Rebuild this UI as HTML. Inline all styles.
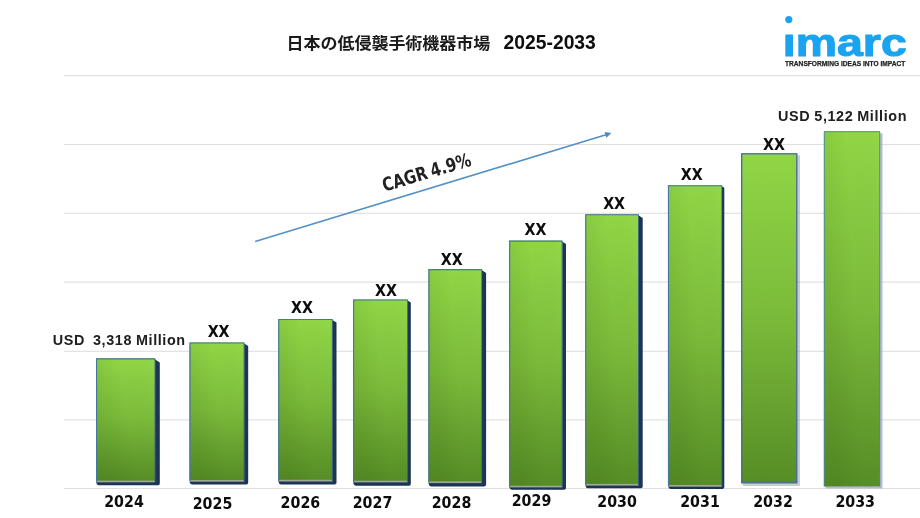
<!DOCTYPE html>
<html lang="ja">
<head>
<meta charset="utf-8">
<title>日本の低侵襲手術機器市場 2025-2033</title>
<style>
html,body{margin:0;padding:0;background:#fff;}
body{width:920px;height:518px;overflow:hidden;font-family:"Liberation Sans","Noto Sans CJK JP",sans-serif;}
svg{display:block;}
text{font-family:"Liberation Sans","Noto Sans CJK JP",sans-serif;}
.b{font-weight:700;}
.d{font-family:"DejaVu Sans Condensed","Liberation Sans",sans-serif;font-weight:700;}
</style>
</head>
<body>
<svg width="920" height="518" viewBox="0 0 920 518">
<defs>
<linearGradient id="g" x1="0" y1="0" x2="0" y2="1">
<stop offset="0" stop-color="#90d645"/>
<stop offset="0.5" stop-color="#7aba3a"/>
<stop offset="1" stop-color="#568d26"/>
</linearGradient>
<linearGradient id="h" x1="0" y1="0.3" x2="1" y2="0">
<stop offset="0" stop-color="#1e3c00" stop-opacity="0.09"/>
<stop offset="0.45" stop-color="#1e3c00" stop-opacity="0"/>
<stop offset="1" stop-color="#ffffff" stop-opacity="0.03"/>
</linearGradient>
<filter id="bl" x="-20%" y="-20%" width="140%" height="140%"><feGaussianBlur stdDeviation="0.4"/></filter>
<filter id="bl2" x="-20%" y="-20%" width="140%" height="140%"><feGaussianBlur stdDeviation="0.7"/></filter>
<clipPath id="lc"><rect x="780" y="33" width="130" height="30"/></clipPath>
</defs>
<rect width="920" height="518" fill="#fff"/>
<rect x="64" y="75.20" width="856" height="1.1" fill="#dfdfdf"/>
<rect x="64" y="143.95" width="856" height="1.1" fill="#dfdfdf"/>
<rect x="64" y="212.75" width="856" height="1.1" fill="#dfdfdf"/>
<rect x="64" y="281.55" width="856" height="1.1" fill="#dfdfdf"/>
<rect x="64" y="350.75" width="856" height="1.1" fill="#dfdfdf"/>
<rect x="64" y="419.35" width="856" height="1.1" fill="#dfdfdf"/>
<rect x="64" y="487.95" width="856" height="1.1" fill="#dfdfdf"/>
<path d="M154.1 358.8 L159.8 362.5 L159.8 483.4 Q159.8 485.2 158.0 485.2 L98.7 485.2 Q96.6 485.2 96.3 482.8 L96.3 362.4 Z" fill="#1e3455" filter="url(#bl)"/>
<rect x="96.1" y="358.4" width="59.0" height="123.9" fill="#9fa99a"/>
<rect x="96.1" y="358.4" width="59.0" height="122.2" fill="url(#g)"/>
<rect x="96.1" y="358.4" width="59.0" height="122.2" fill="url(#h)"/>
<path d="M96.55 481.8 V358.85 H155.10" fill="none" stroke="#44789f" stroke-width="1.1"/>
<path d="M155.00 359.00 V482.0" fill="none" stroke="#2f5688" stroke-width="0.8"/>
<path d="M243.2 342.9 L248.2 346.1 L248.2 482.8 Q248.2 484.6 246.4 484.6 L192.2 484.6 Q190.1 484.6 189.8 482.2 L189.8 346.5 Z" fill="#1e3455" filter="url(#bl)"/>
<rect x="189.6" y="342.5" width="54.6" height="139.2" fill="#9fa99a"/>
<rect x="189.6" y="342.5" width="54.6" height="137.5" fill="url(#g)"/>
<rect x="189.6" y="342.5" width="54.6" height="137.5" fill="url(#h)"/>
<path d="M190.05 481.2 V342.95 H244.20" fill="none" stroke="#44789f" stroke-width="1.1"/>
<path d="M244.10 343.10 V481.4" fill="none" stroke="#2f5688" stroke-width="0.8"/>
<path d="M331.5 319.4 L336.5 322.6 L336.5 482.7 Q336.5 484.5 334.7 484.5 L280.9 484.5 Q278.8 484.5 278.5 482.1 L278.5 323.0 Z" fill="#1e3455" filter="url(#bl)"/>
<rect x="278.3" y="319.0" width="54.2" height="162.5" fill="#9fa99a"/>
<rect x="278.3" y="319.0" width="54.2" height="160.8" fill="url(#g)"/>
<rect x="278.3" y="319.0" width="54.2" height="160.8" fill="url(#h)"/>
<path d="M278.75 481.0 V319.45 H332.50" fill="none" stroke="#44789f" stroke-width="1.1"/>
<path d="M332.40 319.60 V481.2" fill="none" stroke="#2f5688" stroke-width="0.8"/>
<path d="M406.7 300.0 L410.8 302.6 L410.8 483.9 Q410.8 485.7 409.0 485.7 L355.8 485.7 Q353.7 485.7 353.4 483.3 L353.4 303.6 Z" fill="#1e3455" filter="url(#bl)"/>
<rect x="353.2" y="299.6" width="54.5" height="182.8" fill="#9fa99a"/>
<rect x="353.2" y="299.6" width="54.5" height="181.1" fill="url(#g)"/>
<rect x="353.2" y="299.6" width="54.5" height="181.1" fill="url(#h)"/>
<path d="M353.65 481.9 V300.05 H407.70" fill="none" stroke="#44789f" stroke-width="1.1"/>
<path d="M407.60 300.20 V482.1" fill="none" stroke="#2f5688" stroke-width="0.8"/>
<path d="M480.9 269.6 L486.1 272.9 L486.1 484.6 Q486.1 486.4 484.3 486.4 L431.1 486.4 Q429.0 486.4 428.7 484.0 L428.7 273.2 Z" fill="#1e3455" filter="url(#bl)"/>
<rect x="428.5" y="269.2" width="53.4" height="213.9" fill="#9fa99a"/>
<rect x="428.5" y="269.2" width="53.4" height="212.2" fill="url(#g)"/>
<rect x="428.5" y="269.2" width="53.4" height="212.2" fill="url(#h)"/>
<path d="M428.95 482.6 V269.65 H481.90" fill="none" stroke="#44789f" stroke-width="1.1"/>
<path d="M481.80 269.80 V482.8" fill="none" stroke="#2f5688" stroke-width="0.8"/>
<path d="M561.3 241.1 L566.0 244.1 L566.0 487.9 Q566.0 489.7 564.2 489.7 L511.8 489.7 Q509.7 489.7 509.4 487.3 L509.4 244.7 Z" fill="#1e3455" filter="url(#bl)"/>
<rect x="509.2" y="240.7" width="53.1" height="246.7" fill="#9fa99a"/>
<rect x="509.2" y="240.7" width="53.1" height="245.0" fill="url(#g)"/>
<rect x="509.2" y="240.7" width="53.1" height="245.0" fill="url(#h)"/>
<path d="M509.65 486.9 V241.15 H562.30" fill="none" stroke="#44789f" stroke-width="1.1"/>
<path d="M562.20 241.30 V487.1" fill="none" stroke="#2f5688" stroke-width="0.8"/>
<path d="M637.6 214.7 L642.7 218.0 L642.7 486.5 Q642.7 488.3 640.9 488.3 L587.9 488.3 Q585.8 488.3 585.5 485.9 L585.5 218.3 Z" fill="#1e3455" filter="url(#bl)"/>
<rect x="585.3" y="214.3" width="53.3" height="271.3" fill="#9fa99a"/>
<rect x="585.3" y="214.3" width="53.3" height="269.6" fill="url(#g)"/>
<rect x="585.3" y="214.3" width="53.3" height="269.6" fill="url(#h)"/>
<path d="M585.75 485.1 V214.75 H638.60" fill="none" stroke="#44789f" stroke-width="1.1"/>
<path d="M638.50 214.90 V485.3" fill="none" stroke="#2f5688" stroke-width="0.8"/>
<path d="M721.0 185.7 L724.3 187.7 L724.3 487.1 Q724.3 488.9 722.5 488.9 L670.6 488.9 Q668.5 488.9 668.2 486.5 L668.2 189.3 Z" fill="#1e3455" filter="url(#bl)"/>
<rect x="668.0" y="185.3" width="54.0" height="301.4" fill="#9fa99a"/>
<rect x="668.0" y="185.3" width="54.0" height="299.7" fill="url(#g)"/>
<rect x="668.0" y="185.3" width="54.0" height="299.7" fill="url(#h)"/>
<path d="M668.45 486.2 V185.75 H722.00" fill="none" stroke="#44789f" stroke-width="1.1"/>
<path d="M721.90 185.90 V486.4" fill="none" stroke="#2f5688" stroke-width="0.8"/>
<rect x="742.6" y="155.3" width="57.4" height="330.7" rx="1" fill="#9aa3b8" opacity="0.55" filter="url(#bl2)"/>
<rect x="741.7" y="153.8" width="55.1" height="329.0" fill="url(#g)" stroke="#44699c" stroke-width="1.3"/>
<rect x="825.4" y="133.3" width="57.1" height="355.2" rx="1" fill="#a3a9cc" opacity="0.8" filter="url(#bl2)"/>
<rect x="823.9" y="131.3" width="56.2" height="355.1" fill="url(#g)"/>
<rect x="823.9" y="131.3" width="56.2" height="355.1" fill="url(#h)"/>
<path d="M824.30 486.4 V131.70 H879.70 V486.4" fill="none" stroke="#4e86a0" stroke-width="0.9"/>
<text class="d" x="218.6" y="337.0" font-size="15.8" text-anchor="middle" fill="#0d0d0d">XX</text>
<text class="d" x="302.0" y="312.6" font-size="15.8" text-anchor="middle" fill="#0d0d0d">XX</text>
<text class="d" x="386.0" y="295.5" font-size="15.8" text-anchor="middle" fill="#0d0d0d">XX</text>
<text class="d" x="451.8" y="265.1" font-size="15.8" text-anchor="middle" fill="#0d0d0d">XX</text>
<text class="d" x="535.5" y="235.2" font-size="15.8" text-anchor="middle" fill="#0d0d0d">XX</text>
<text class="d" x="614.1" y="208.6" font-size="15.8" text-anchor="middle" fill="#0d0d0d">XX</text>
<text class="d" x="691.8" y="180.2" font-size="15.8" text-anchor="middle" fill="#0d0d0d">XX</text>
<text class="d" x="774.0" y="150.3" font-size="15.8" text-anchor="middle" fill="#0d0d0d">XX</text>
<text class="d" x="124.0" y="507.0" font-size="15.8" text-anchor="middle" fill="#0d0d0d">2024</text>
<text class="d" x="212.5" y="508.8" font-size="15.8" text-anchor="middle" fill="#0d0d0d">2025</text>
<text class="d" x="300.4" y="507.9" font-size="15.8" text-anchor="middle" fill="#0d0d0d">2026</text>
<text class="d" x="372.5" y="507.8" font-size="15.8" text-anchor="middle" fill="#0d0d0d">2027</text>
<text class="d" x="451.5" y="507.5" font-size="15.8" text-anchor="middle" fill="#0d0d0d">2028</text>
<text class="d" x="531.5" y="506.4" font-size="15.8" text-anchor="middle" fill="#0d0d0d">2029</text>
<text class="d" x="617.1" y="506.7" font-size="15.8" text-anchor="middle" fill="#0d0d0d">2030</text>
<text class="d" x="700.0" y="506.5" font-size="15.8" text-anchor="middle" fill="#0d0d0d">2031</text>
<text class="d" x="773.0" y="506.5" font-size="15.8" text-anchor="middle" fill="#0d0d0d">2032</text>
<text class="d" x="855.2" y="506.5" font-size="15.8" text-anchor="middle" fill="#0d0d0d">2033</text>
<text class="b" x="52.8" y="344.6" font-size="14.4" letter-spacing="0.6" word-spacing="-0.6" fill="#202020" xml:space="preserve">USD  3,318 Million</text>
<text class="b" x="778.1" y="121.4" font-size="14.4" fill="#202020" letter-spacing="0.6" word-spacing="-0.6">USD 5,122 Million</text>
<line x1="255.2" y1="241.5" x2="606" y2="134.7" stroke="#5591c8" stroke-width="1.7"/>
<path d="M611.4 133.1 L604.6 132.1 L606.3 137.8 Z" fill="#4f88bf"/>
<text class="d" x="0" y="6.9" font-size="18.8" word-spacing="-1.6" text-anchor="middle" fill="#222" transform="translate(426.4 172) rotate(-16.8) scale(0.885 1)">CAGR 4.9%</text>
<text x="0" y="0" font-size="16" font-weight="700" fill="#1a1a1a" transform="translate(286.4 48.8) scale(1.063 1)">日本の低侵襲手術機器市場</text>
<text class="b" x="503.6" y="49" font-size="19.3" fill="#0d0d0d">2025-2033</text>
<circle cx="788.8" cy="19.6" r="3.6" fill="#1aa3f0"/>
<g clip-path="url(#lc)"><text class="b" x="782.8" y="56.4" font-size="39.6" fill="#1aa3f0" stroke="#1aa3f0" stroke-width="1.1" stroke-linejoin="round" textLength="124" lengthAdjust="spacingAndGlyphs">imarc</text></g>
<text class="b" x="785" y="66" font-size="7" fill="#222" stroke="#222" stroke-width="0.25" textLength="120.4" lengthAdjust="spacingAndGlyphs">TRANSFORMING IDEAS INTO IMPACT</text>
</svg>
</body>
</html>
